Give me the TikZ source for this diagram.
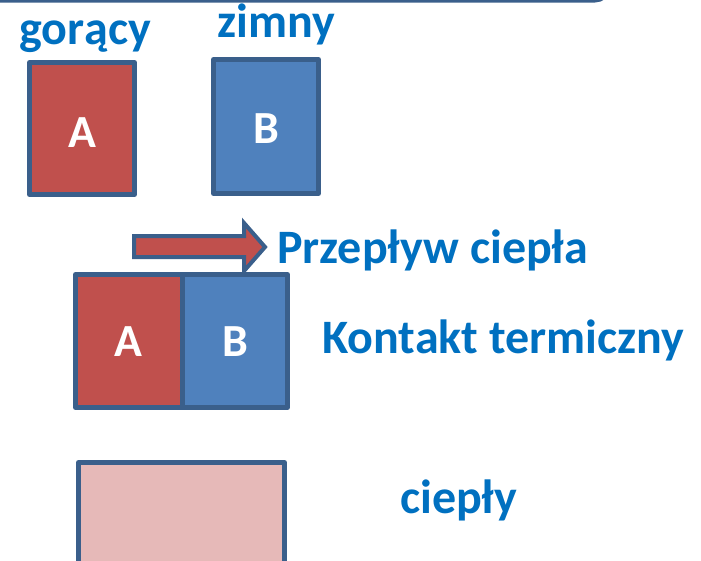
\documentclass[tikz,border=0pt]{standalone}
\usepackage{fontspec}
\setmainfont{Carlito}
\definecolor{hotred}{HTML}{C0504D}
\definecolor{coldblue}{HTML}{4F81BD}
\definecolor{edgeblue}{HTML}{3A5F8B}
\definecolor{warmpink}{HTML}{E6B9B8}
\definecolor{labelblue}{HTML}{0070C0}
\tikzset{
  block/.style={draw=edgeblue, line width=5pt, line join=round, inner sep=0pt, outer sep=0pt},
  letter/.style={text=white, font=\fontsize{46}{46}\selectfont\bfseries, inner sep=0pt},
  caption/.style={text=labelblue, font=\fontsize{48}{48}\selectfont\bfseries, inner sep=0pt, anchor=base west},
}
\begin{document}
\begin{tikzpicture}[x=1pt, y=-1pt]
\useasboundingbox (0,0) rectangle (701,560);

% frame edge running along the top
\draw[edgeblue, line width=3pt] (-10,1) -- (595,1) arc[start angle=90, end angle=50, radius=15];

% separate bodies
\node[block, fill=hotred, minimum width=105pt, minimum height=132pt] (hotA) at (82,128.5) {};
\node[block, fill=coldblue, minimum width=105pt, minimum height=134pt] (coldB) at (266,126.5) {};
\node[letter] (hotAtxt) at (82,133) {A};
\node[letter] (coldBtxt) at (266.5,129) {B};
\node[caption] (hotlbl) at (19,44) {gorący};
\node[caption] (coldlbl) at (217,37) {zimny};

% heat flow arrow
\draw[edgeblue, fill=hotred, line width=4pt, line join=miter]
  (134,236) -- (244,236) -- (244,223) -- (265,247) -- (244,271) -- (244,257) -- (134,257) -- cycle;
\node[caption] (flowlbl) at (277,263) {Przepływ ciepła};

% bodies in thermal contact
\node[block, fill=hotred, minimum width=106.5pt, minimum height=133pt] (contA) at (128.75,341) {};
\node[block, fill=coldblue, minimum width=105.5pt, minimum height=133pt] (contB) at (234.75,341) {};
\node[letter] (contAtxt) at (128.5,342) {A};
\node[letter] (contBtxt) at (235,342) {B};
\node[caption] (contlbl) at (322,353) {Kontakt termiczny};

% equilibrium body
\node[block, fill=warmpink, minimum width=206pt, minimum height=137pt] (warm) at (181.5,531) {};
\node[caption] (warmlbl) at (400,513) {ciepły};
\end{tikzpicture}
\end{document}
